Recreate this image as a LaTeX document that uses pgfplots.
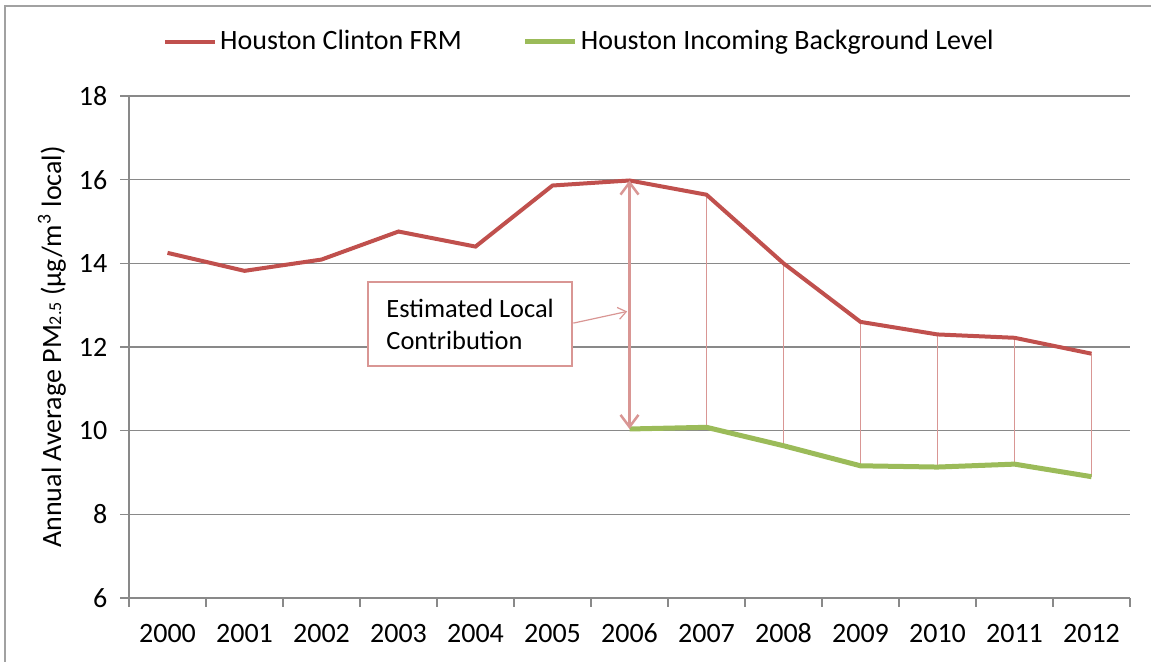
\documentclass[border=0pt]{standalone}
\usepackage{fontspec}
\setmainfont{Carlito}
\usepackage{pgfplots}
\pgfplotsset{compat=1.18}
\usetikzlibrary{arrows.meta}

\definecolor{frmred}{HTML}{C0504D}
\definecolor{bggreen}{HTML}{9BBB59}
\definecolor{callout}{HTML}{D99694}
\definecolor{gridgray}{HTML}{898989}

\begin{document}
\fontsize{14pt}{17pt}\selectfont
\begin{tikzpicture}
\useasboundingbox (0,0) rectangle (575.5pt,331pt);
\draw[gridgray!80, line width=0.9pt] (2.5pt,0) -- (2.5pt,328pt) -- (575.5pt,328pt);
\begin{axis}[
    at={(64.5pt,32pt)}, anchor=south west,
    scale only axis,
    width=500.5pt, height=251pt,
    xmin=-0.5, xmax=12.5,
    ymin=6, ymax=18,
    ytick={6,8,...,18},
    xtick={0,...,12},
    xticklabels={2000,2001,2002,2003,2004,2005,2006,2007,2008,2009,2010,2011,2012},
    minor xtick={-0.5,0.5,...,12.5},
    major x tick style={draw=none},
    tick align=outside,
    major tick length=4.5pt,
    minor tick length=4.5pt,
    tick style={gridgray, line width=0.8pt},
    xticklabel style={text height=10pt, text depth=0pt, yshift=-3pt},
    yticklabel style={xshift=-1.5pt},
    axis x line*=bottom,
    axis y line*=left,
    axis line style={gridgray, line width=0.8pt, -},
    ymajorgrids,
    grid style={gridgray, line width=0.8pt},
    /pgf/number format/assume math mode=true,
    ylabel={Annual Average PM{\small 2.5} (µg/m\textsuperscript{3} local)},
    ylabel style={at={(axis description cs:-0.077,0.5)}, anchor=center},
    legend columns=2,
    legend style={at={(0.4505,1.1076)}, anchor=center, draw=none, fill=none,
        /tikz/every even column/.append style={column sep=29pt},
        nodes={inner xsep=1.5pt}},
    legend image code/.code={\draw[#1] (0pt,0pt) -- (25pt,0pt);},
    clip=false,
]
% drop lines between the two series
\addplot[callout, line width=0.5pt, unbounded coords=jump, forget plot] coordinates {
    (7,15.64) (7,10.08) (7,nan)
    (8,14.00) (8,9.64) (8,nan)
    (9,12.60) (9,9.16) (9,nan)
    (10,12.30) (10,9.13) (10,nan)
    (11,12.22) (11,9.20) (11,nan)
    (12,11.84) (12,8.90)
};
\addplot[frmred, line width=2pt] coordinates {
    (0,14.25) (1,13.82) (2,14.09) (3,14.76) (4,14.40) (5,15.86) (6,15.98)
    (7,15.64) (8,14.00) (9,12.60) (10,12.30) (11,12.22) (12,11.84)
};
\addlegendentry{Houston Clinton FRM}
\addplot[bggreen, line width=2.5pt] coordinates {
    (6,10.04) (7,10.08) (8,9.64) (9,9.16) (10,9.13) (11,9.20) (12,8.90)
};
\addlegendentry{Houston Incoming Background Level}
% local contribution arrow at 2006
\addplot[callout, line width=1.25pt, forget plot,
    {Straight Barb[length=6pt,width=9pt]}-{Straight Barb[length=6pt,width=9pt]}]
    coordinates {(6,15.98) (6,10.04)};
\draw[callout, line width=0.6pt, -{Straight Barb[length=4pt,width=6pt]}]
    (axis cs:5.27,12.57) -- (axis cs:5.97,12.85);
\node[draw=callout, line width=1.25pt, fill=white, align=left,
    font=\fontsize{13.2pt}{16pt}\selectfont,
    minimum width=102pt, minimum height=42pt, inner xsep=9pt]
    at (axis cs:3.93,12.545) {Estimated Local\\Contribution};
\end{axis}
\end{tikzpicture}
\end{document}
